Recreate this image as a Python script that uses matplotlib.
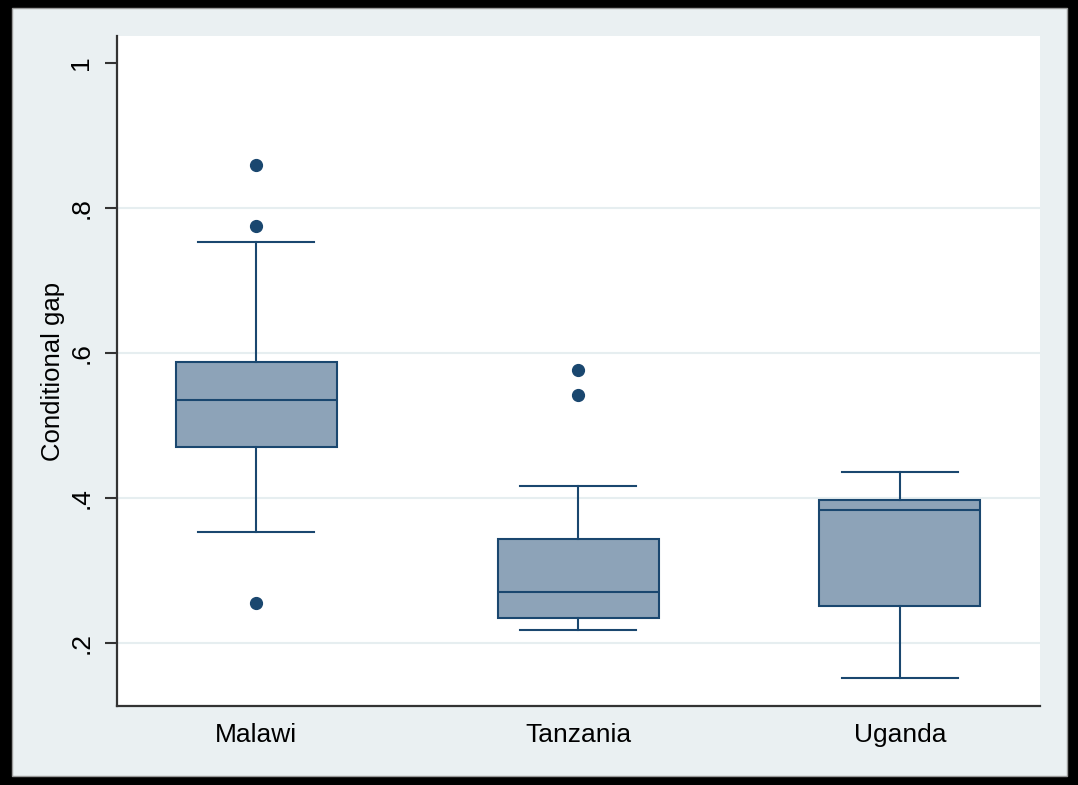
import matplotlib.pyplot as plt
from matplotlib.patches import Rectangle

plt.rcParams['font.family'] = ['Liberation Sans', 'DejaVu Sans']

# box summaries per country
countries = ['Malawi', 'Tanzania', 'Uganda']
q1 = [0.470, 0.2345, 0.251]
medians = [0.535, 0.270, 0.383]
q3 = [0.588, 0.3435, 0.397]
whisker_lo = [0.353, 0.218, 0.152]
whisker_hi = [0.753, 0.4165, 0.436]
outliers = [[0.859, 0.775, 0.255], [0.577, 0.542], []]

y_ticks = [0.2, 0.4, 0.6, 0.8, 1.0]
y_ticklabels = ['.2', '.4', '.6', '.8', '1']

navy = '#1A476F'
box_fill = '#8DA3B8'
bg = '#EAF0F2'

fig = plt.figure(figsize=(10.78, 7.85), dpi=100, facecolor='black')
# light panel inside the black frame
panel = Rectangle((12 / 1078, 9 / 785), 1055 / 1078, 768 / 785,
                  transform=fig.transFigure, facecolor=bg,
                  edgecolor='#9a9a9a', linewidth=1, zorder=-10)
fig.add_artist(panel)

ax = fig.add_axes([117 / 1078, 79 / 785, 923 / 1078, 670 / 785])
ax.set_facecolor('white')

stats = []
for i, name in enumerate(countries):
    stats.append({
        'label': name,
        'q1': q1[i],
        'med': medians[i],
        'q3': q3[i],
        'whislo': whisker_lo[i],
        'whishi': whisker_hi[i],
        'fliers': outliers[i],
    })

positions = list(range(1, len(countries) + 1))
ax.bxp(stats, positions=positions, widths=0.5, patch_artist=True,
       showcaps=True,
       boxprops=dict(facecolor=box_fill, edgecolor=navy, linewidth=1.5),
       medianprops=dict(color=navy, linewidth=1.5),
       whiskerprops=dict(color=navy, linewidth=1.5),
       capprops=dict(color=navy, linewidth=1.5),
       flierprops=dict(marker='o', markerfacecolor=navy, markeredgecolor=navy,
                       markersize=8.5, linestyle='none'))

# caps are narrower than the boxes
for line in ax.lines:
    xd = line.get_xdata()
    yd = line.get_ydata()
    if len(xd) == 2 and yd[0] == yd[1] and yd[0] in whisker_lo + whisker_hi:
        c = (xd[0] + xd[1]) / 2
        line.set_xdata([c - 0.18, c + 0.18])

# grid lines, none at the top tick
for t in y_ticks[:-1]:
    ax.axhline(t, color='#E6EEF0', linewidth=1.5, zorder=0)

ax.set_xlim(0.568, 3.435)
ax.set_ylim(0.113, 1.037)
ax.set_yticks(y_ticks)
ax.set_yticklabels(y_ticklabels, rotation=90, va='center', fontsize=19)
ax.set_xticks(positions)
ax.set_xticklabels(countries, fontsize=19)
ax.tick_params(axis='x', length=0, pad=12)
ax.tick_params(axis='y', length=9, width=1.5, color='#333333', pad=8)
ax.set_ylabel('Conditional gap', fontsize=18.5, labelpad=3)

for side in ['top', 'right']:
    ax.spines[side].set_visible(False)
for side in ['left', 'bottom']:
    ax.spines[side].set_linewidth(1.6)
    ax.spines[side].set_color('#333333')

fig.savefig('out.png', dpi=100, facecolor='black')
